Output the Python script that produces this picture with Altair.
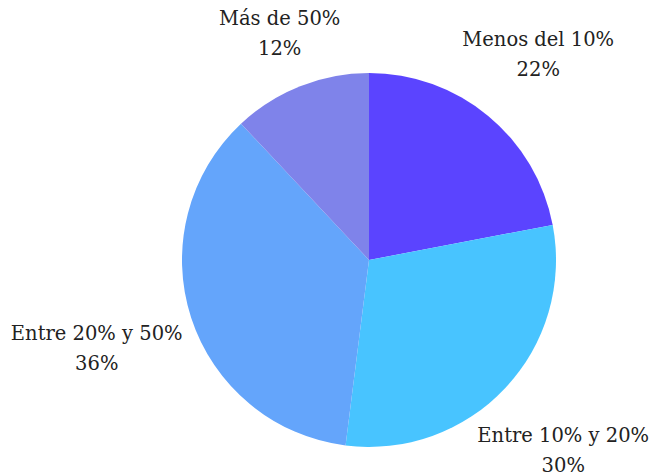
import altair as alt
import pandas as pd

categories = ["Menos del 10%", "Entre 10% y 20%", "Entre 20% y 50%", "Más de 50%"]
values = [22, 30, 36, 12]
colors = ["#5B44FF", "#48C4FF", "#64A5FB", "#7F83EA"]

df = pd.DataFrame({"cat": categories, "val": values, "order": list(range(len(values)))})

W, H = 644, 466
CX, CY, R = 361, 252, 187

pie = alt.Chart(df).mark_arc(outerRadius=R, stroke=None).encode(
    theta=alt.Theta("val:Q", stack=True),
    order=alt.Order("order:Q"),
    color=alt.Color("cat:N", scale=alt.Scale(domain=categories, range=colors), legend=None),
    x=alt.value(CX),
    y=alt.value(CY),
)

labels = alt.Chart(df).transform_joinaggregate(
    total="sum(val)"
).transform_window(
    cum="sum(val)", sort=[alt.SortField("order")]
).transform_calculate(
    mid="(datum.cum - datum.val / 2) / datum.total * 2 * PI",
    lab="datum.cat + '\\n' + datum.val + '%'",
    hw="5.85 * length(datum.cat)",
).transform_calculate(
    lr=f"{R} + 10 + datum.hw * abs(sin(datum.mid)) + 26 * abs(cos(datum.mid))"
).transform_calculate(
    lx=f"clamp({CX} + datum.lr * sin(datum.mid), datum.hw + 1, {W} - datum.hw - 1)",
    ly=f"{CY} - datum.lr * cos(datum.mid)",
).mark_text(
    font="DejaVu Serif",
    fontSize=19.5,
    lineHeight=30,
    lineBreak="\n",
    align="center",
    baseline="middle",
    dy=-15,
    color="#222222",
).encode(
    text="lab:N",
    x=alt.X("lx:Q", scale=None, axis=None),
    y=alt.Y("ly:Q", scale=None, axis=None),
)

chart = (pie + labels).properties(
    width=W, height=H,
    autosize=alt.AutoSizeParams(type="none"),
    padding=0,
).configure_view(stroke=None)

chart.save("out.html", embed_options={"renderer": "svg", "actions": False})
